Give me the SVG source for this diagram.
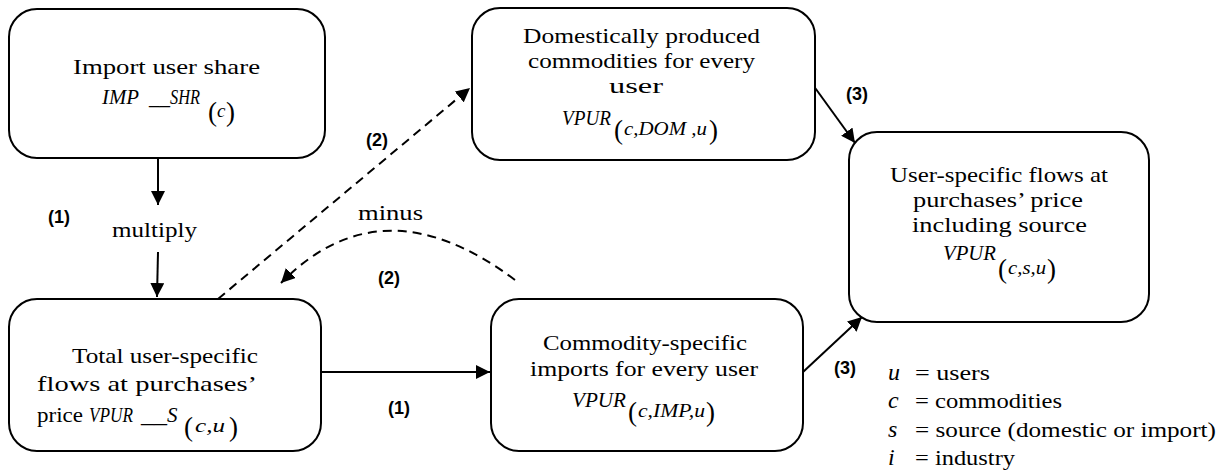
<svg xmlns="http://www.w3.org/2000/svg" width="1231" height="470" viewBox="0 0 1231 470">
<style>
.box{fill:#fff;stroke:#000;stroke-width:2}
.t{font-family:"Liberation Serif","Times New Roman",serif;font-size:22px;fill:#000}
.m{font-family:"Liberation Serif","Times New Roman",serif;font-style:italic;font-size:21px;fill:#000}
.ms{font-family:"Liberation Serif","Times New Roman",serif;font-style:italic;font-size:19px;fill:#000}
.p{font-family:"Liberation Serif","Times New Roman",serif;font-size:27px;fill:#000}
.lbl{font-family:"Liberation Sans",Arial,sans-serif;font-weight:bold;font-size:18px;fill:#000}
.c{stroke:#000;stroke-width:2;fill:none}
.d{stroke-dasharray:9 6}
</style>
<defs>
<marker id="ah" viewBox="0 0 10 10" refX="10" refY="5" markerWidth="7" markerHeight="7" markerUnits="strokeWidth" orient="auto">
<path d="M0,0 L10,5 L0,10 z" fill="#000"/>
</marker>
</defs>

<g id="connectors">
<line class="c" x1="158" y1="158" x2="158" y2="205" marker-end="url(#ah)"/>
<line class="c" x1="158" y1="252" x2="157" y2="297" marker-end="url(#ah)"/>
<line class="c" x1="321" y1="372" x2="490" y2="372" marker-end="url(#ah)"/>
<line class="c d" x1="218" y1="299" x2="470" y2="88" marker-end="url(#ah)"/>
<path class="c d" d="M515,280 Q382,180 281,283" marker-end="url(#ah)"/>
<line class="c" x1="813" y1="85" x2="855" y2="143" marker-end="url(#ah)"/>
<line class="c" x1="803" y1="372" x2="862" y2="317" marker-end="url(#ah)"/>
<text class="t" x="112" y="237" textLength="85" lengthAdjust="spacingAndGlyphs">multiply</text>
<text class="t" x="358" y="220" textLength="65" lengthAdjust="spacingAndGlyphs">minus</text>
<text class="lbl" x="48" y="223">(1)</text>
<text class="lbl" x="388" y="414">(1)</text>
<text class="lbl" x="366" y="146">(2)</text>
<text class="lbl" x="378" y="284">(2)</text>
<text class="lbl" x="846" y="100">(3)</text>
<text class="lbl" x="834" y="374">(3)</text>
</g>

<g id="import-share">
<rect class="box" x="9" y="9" width="316" height="149" rx="28"/>
<text class="t" x="73" y="74" textLength="187" lengthAdjust="spacingAndGlyphs">Import user share</text>
<text class="m" x="102" y="104" textLength="37" lengthAdjust="spacingAndGlyphs">IMP</text>
<text class="m" x="149" y="104" textLength="21" lengthAdjust="spacingAndGlyphs">__</text>
<text class="m" x="170" y="104" textLength="30" lengthAdjust="spacingAndGlyphs">SHR</text>
<text class="p" x="208" y="121">(</text>
<text class="ms" x="217" y="117">c</text>
<text class="p" x="235" y="121" text-anchor="end">)</text>
</g>

<g id="domestic">
<rect class="box" x="472" y="8" width="343" height="152" rx="28"/>
<text class="t" x="523" y="43" textLength="237" lengthAdjust="spacingAndGlyphs">Domestically produced</text>
<text class="t" x="528" y="68" textLength="227" lengthAdjust="spacingAndGlyphs">commodities for every</text>
<text class="t" x="609" y="93" textLength="54" lengthAdjust="spacingAndGlyphs">user</text>
<text class="m" x="562" y="125" textLength="49" lengthAdjust="spacingAndGlyphs">VPUR</text>
<text class="p" x="614" y="139">(</text>
<text class="ms" x="624" y="135" textLength="83" lengthAdjust="spacingAndGlyphs">c,DOM ,u</text>
<text class="p" x="718" y="139" text-anchor="end">)</text>
</g>

<g id="user-flows">
<rect class="box" x="849" y="132" width="300" height="190" rx="28"/>
<text class="t" x="890" y="182" textLength="218" lengthAdjust="spacingAndGlyphs">User-specific flows at</text>
<text class="t" x="913" y="207" textLength="170" lengthAdjust="spacingAndGlyphs">purchases’ price</text>
<text class="t" x="912" y="232" textLength="175" lengthAdjust="spacingAndGlyphs">including source</text>
<text class="m" x="943" y="260" textLength="53" lengthAdjust="spacingAndGlyphs">VPUR</text>
<text class="p" x="998" y="278">(</text>
<text class="ms" x="1008" y="274" textLength="38" lengthAdjust="spacingAndGlyphs">c,s,u</text>
<text class="p" x="1056" y="278" text-anchor="end">)</text>
</g>

<g id="total-flows">
<rect class="box" x="9" y="299" width="312" height="152" rx="28"/>
<text class="t" x="72" y="363" textLength="186" lengthAdjust="spacingAndGlyphs">Total user-specific</text>
<text class="t" x="37" y="391" textLength="220" lengthAdjust="spacingAndGlyphs">flows at purchases’</text>
<text class="t" x="37" y="422" textLength="46" lengthAdjust="spacingAndGlyphs">price</text>
<text class="m" x="89" y="422" textLength="44" lengthAdjust="spacingAndGlyphs">VPUR</text>
<text class="m" x="141" y="422" textLength="26" lengthAdjust="spacingAndGlyphs">__</text>
<text class="m" x="167" y="422">S</text>
<text class="p" x="184" y="436">(</text>
<text class="ms" x="195" y="432" textLength="30" lengthAdjust="spacingAndGlyphs">c,u</text>
<text class="p" x="238" y="436" text-anchor="end">)</text>
</g>

<g id="imports">
<rect class="box" x="491" y="299" width="312" height="152" rx="28"/>
<text class="t" x="543" y="350" textLength="204" lengthAdjust="spacingAndGlyphs">Commodity-specific</text>
<text class="t" x="530" y="376" textLength="228" lengthAdjust="spacingAndGlyphs">imports for every user</text>
<text class="m" x="572" y="407" textLength="54" lengthAdjust="spacingAndGlyphs">VPUR</text>
<text class="p" x="628" y="421">(</text>
<text class="ms" x="638" y="417" textLength="67" lengthAdjust="spacingAndGlyphs">c,IMP,u</text>
<text class="p" x="715" y="421" text-anchor="end">)</text>
</g>

<g id="legend">
<text class="m" x="888" y="380" style="font-size:24px">u</text><text class="t" x="915" y="380" textLength="75" lengthAdjust="spacingAndGlyphs">= users</text>
<text class="m" x="888" y="408" style="font-size:24px">c</text><text class="t" x="915" y="408" textLength="147" lengthAdjust="spacingAndGlyphs">= commodities</text>
<text class="m" x="888" y="437" style="font-size:24px">s</text><text class="t" x="915" y="437" textLength="301" lengthAdjust="spacingAndGlyphs">= source (domestic or import)</text>
<text class="m" x="888" y="465" style="font-size:24px">i</text><text class="t" x="915" y="465" textLength="100" lengthAdjust="spacingAndGlyphs">= industry</text>
</g>
</svg>
